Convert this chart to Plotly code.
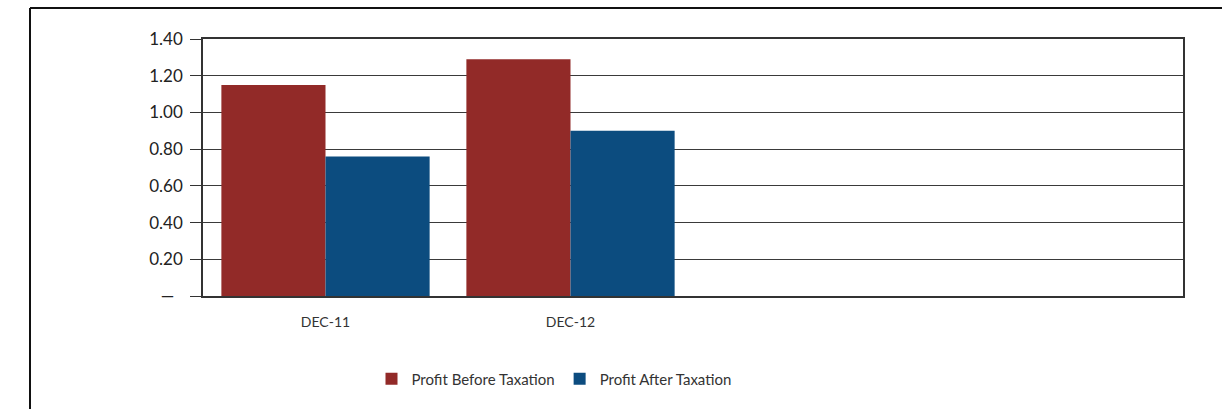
import plotly.graph_objects as go

# Profit figures by period
periods = ["DEC-11", "DEC-12"]
profit_before_tax = [1.15, 1.29]
profit_after_tax = [0.76, 0.90]

y_tick_values = [0, 0.2, 0.4, 0.6, 0.8, 1.0, 1.2, 1.4]
y_tick_labels = ["—  ", "0.20", "0.40", "0.60", "0.80", "1.00", "1.20", "1.40"]

RED = "#922a28"
BLUE = "#0c4c7f"
FONT = "Lato, 'Open Sans', sans-serif"

fig = go.Figure()
fig.add_trace(go.Bar(
    x=periods, y=profit_before_tax, name="Profit Before Taxation",
    marker=dict(color=RED, line=dict(width=0)),
))
fig.add_trace(go.Bar(
    x=periods, y=profit_after_tax, name="Profit After Taxation",
    marker=dict(color=BLUE, line=dict(width=0)),
))

W, H = 1222, 409
L, R, T, B = 203, 39, 39, 113
pw, ph = W - L - R, H - T - B

def px_x(x):
    return (x - L) / pw

def px_y(y):
    return (H - B - y) / ph

fig.update_layout(
    width=W, height=H,
    margin=dict(l=L, r=R, t=T, b=B, pad=0),
    paper_bgcolor="white", plot_bgcolor="white",
    barmode="group", bargap=0.15, bargroupgap=0,
    font=dict(family=FONT, color="#222"),
    showlegend=True,
    legend=dict(
        orientation="h", x=px_x(554), xanchor="center",
        y=px_y(379), yanchor="middle",
        font=dict(size=15, color="#333"),
        itemwidth=30, traceorder="normal",
    ),
    xaxis=dict(
        type="category", range=[-0.5, 3.5],
        showgrid=False, showline=True, linecolor="#333", linewidth=1.5,
        mirror=True, ticks="", tickfont=dict(size=14, color="#333"),
        ticklabelstandoff=12,
    ),
    yaxis=dict(
        range=[0, 1.4], tickvals=y_tick_values, ticktext=y_tick_labels,
        showgrid=True, gridcolor="#3a3a3a", gridwidth=1.2,
        showline=True, linecolor="#333", linewidth=1.5, mirror=True,
        ticks="outside", ticklen=11, tickcolor="#333", tickwidth=1.2,
        tickfont=dict(size=17, color="#222"), zeroline=False,
        ticklabelstandoff=4,
    ),
    shapes=[
        dict(type="line", xref="paper", yref="paper",
             x0=px_x(30), x1=px_x(30), y0=px_y(8), y1=px_y(420),
             line=dict(color="#111", width=2)),
        dict(type="line", xref="paper", yref="paper",
             x0=px_x(30), x1=px_x(1230), y0=px_y(8), y1=px_y(8),
             line=dict(color="#111", width=2)),
    ],
)

fig.write_html("out.html")
